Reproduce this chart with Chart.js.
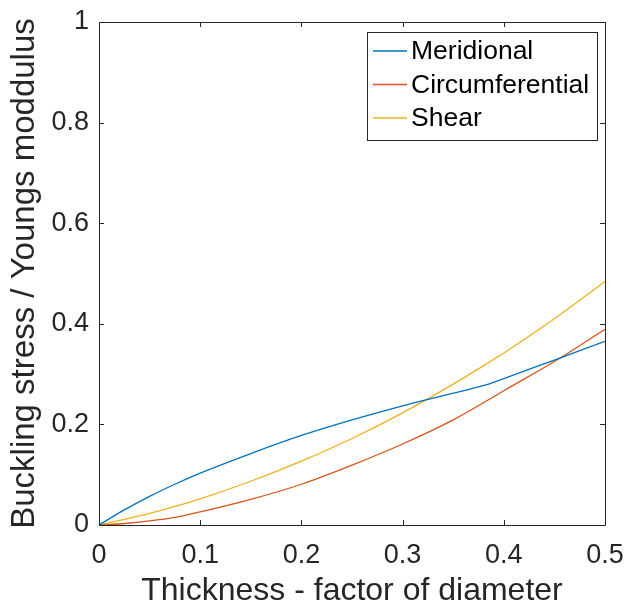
<!DOCTYPE html>
<html>
<head>
<meta charset="utf-8">
<script src="https://cdn.jsdelivr.net/npm/chart.js@4"></script>
<style>
  html, body { margin: 0; padding: 0; background: #ffffff; }
  #wrap { width: 625px; height: 611px; }
</style>
</head>
<body>
<div id="wrap"><canvas id="grafico" width="625" height="611"></canvas></div>
<script>
// Espesor como fracción del diámetro
const thickness = [0, 0.025, 0.05, 0.075, 0.1, 0.15, 0.2, 0.25, 0.3, 0.35, 0.385, 0.4, 0.45, 0.5];

// Tensión de pandeo / módulo de Young
const meridional = [0, 0.030, 0.057, 0.081, 0.103, 0.142, 0.178, 0.209, 0.237, 0.262, 0.280, 0.291, 0.328, 0.365];
const circumferential = [0, 0.003, 0.008, 0.015, 0.026, 0.051, 0.081, 0.119, 0.161, 0.209, 0.249, 0.267, 0.325, 0.389];
const shear = [0, 0.011, 0.023, 0.037, 0.052, 0.087, 0.127, 0.172, 0.223, 0.280, 0.323, 0.342, 0.410, 0.484];

const xTicks = [0, 0.1, 0.2, 0.3, 0.4, 0.5];
const yTicks = [0, 0.2, 0.4, 0.6, 0.8, 1];

const seriesNames = ["Meridional", "Circumferential", "Shear"];
const seriesColors = ["#0072BD", "#D95319", "#EDB120"];

const AXIS_COLOR = "#262626";
const FONT = "'Liberation Sans', Arial, Helvetica, sans-serif";

function puntos(valores) {
  return thickness.map((x, i) => ({ x: x, y: valores[i] }));
}

function formato(v) {
  return String(Number(v.toFixed(2)));
}

// Caja de ejes con marcas hacia dentro en los cuatro lados
const cajaEjes = {
  id: "cajaEjes",
  afterDatasetsDraw(chart) {
    const { ctx, chartArea: a, scales } = chart;
    const len = 5;
    ctx.save();
    ctx.strokeStyle = AXIS_COLOR;
    ctx.lineWidth = 1;
    ctx.beginPath();
    ctx.rect(Math.round(a.left) + 0.5, Math.round(a.top) + 0.5,
      Math.round(a.right - a.left), Math.round(a.bottom - a.top));
    xTicks.forEach((t) => {
      const px = Math.round(scales.x.getPixelForValue(t)) + 0.5;
      ctx.moveTo(px, a.bottom);
      ctx.lineTo(px, a.bottom - len);
      ctx.moveTo(px, a.top);
      ctx.lineTo(px, a.top + len);
    });
    yTicks.forEach((t) => {
      const py = Math.round(scales.y.getPixelForValue(t)) + 0.5;
      ctx.moveTo(a.left, py);
      ctx.lineTo(a.left + len, py);
      ctx.moveTo(a.right, py);
      ctx.lineTo(a.right - len, py);
    });
    ctx.stroke();
    ctx.restore();
  },
};

// Leyenda con recuadro dentro del área del gráfico (esquina superior derecha)
const leyenda = {
  id: "leyenda",
  afterDraw(chart) {
    const { ctx, chartArea: a } = chart;
    const boxW = 230, rowH = 33.5, top = a.top + 10;
    const left = a.right - 8 - boxW;
    const boxH = rowH * chart.data.datasets.length + 7;
    ctx.save();
    ctx.fillStyle = "#ffffff";
    ctx.strokeStyle = AXIS_COLOR;
    ctx.lineWidth = 1;
    ctx.fillRect(left, top, boxW, boxH);
    ctx.strokeRect(Math.round(left) + 0.5, Math.round(top) + 0.5, boxW, Math.round(boxH));
    ctx.font = "26.5px " + FONT;
    ctx.textBaseline = "middle";
    ctx.textAlign = "left";
    chart.data.datasets.forEach((ds, i) => {
      const y = top + 19 + i * rowH;
      ctx.strokeStyle = ds.borderColor;
      ctx.lineWidth = ds.borderWidth;
      ctx.beginPath();
      ctx.moveTo(left + 6, y);
      ctx.lineTo(left + 40, y);
      ctx.stroke();
      ctx.fillStyle = "#000000";
      ctx.fillText(ds.label, left + 44, y + 1);
    });
    ctx.restore();
  },
};

const ctx = document.getElementById("grafico");
new Chart(ctx, {
  type: "line",
  data: {
    datasets: [
      { label: seriesNames[0], data: puntos(meridional) },
      { label: seriesNames[1], data: puntos(circumferential) },
      { label: seriesNames[2], data: puntos(shear) },
    ].map((ds, i) => ({
      ...ds,
      borderColor: seriesColors[i],
      backgroundColor: seriesColors[i],
      borderWidth: 1.3,
      pointRadius: 0,
      fill: false,
      cubicInterpolationMode: "monotone",
    })),
  },
  options: {
    responsive: false,
    animation: false,
    layout: { padding: { top: 22, right: 20, left: 0, bottom: 0 } },
    plugins: {
      legend: { display: false },
      tooltip: { enabled: false },
    },
    scales: {
      x: {
        type: "linear",
        min: 0,
        max: 0.5,
        afterFit(scale) {
          scale.height = 86;
          scale.paddingLeft = 0;
          scale.paddingRight = 0;
        },
        afterBuildTicks(scale) { scale.ticks = xTicks.map((v) => ({ value: v })); },
        grid: { display: false, drawTicks: false },
        border: { display: false },
        ticks: {
          color: AXIS_COLOR,
          font: { family: FONT, size: 27 },
          padding: 14,
          maxRotation: 0,
          callback: (v) => formato(v),
        },
        title: {
          display: true,
          text: "Thickness - factor of diameter",
          color: AXIS_COLOR,
          font: { family: FONT, size: 32 },
          padding: { top: 0, bottom: 1 },
        },
      },
      y: {
        type: "linear",
        min: 0,
        max: 1,
        afterFit(scale) {
          scale.width = 99;
          scale.paddingTop = 0;
          scale.paddingBottom = 0;
        },
        afterBuildTicks(scale) { scale.ticks = yTicks.map((v) => ({ value: v })); },
        grid: { display: false, drawTicks: false },
        border: { display: false },
        ticks: {
          color: AXIS_COLOR,
          font: { family: FONT, size: 27 },
          padding: 10,
          callback: (v) => formato(v),
        },
        title: {
          display: true,
          text: "Buckling stress / Youngs moddulus",
          color: AXIS_COLOR,
          font: { family: FONT, size: 33 },
          padding: { top: 5, bottom: 0 },
        },
      },
    },
  },
  plugins: [cajaEjes, leyenda],
});
</script>
</body>
</html>
